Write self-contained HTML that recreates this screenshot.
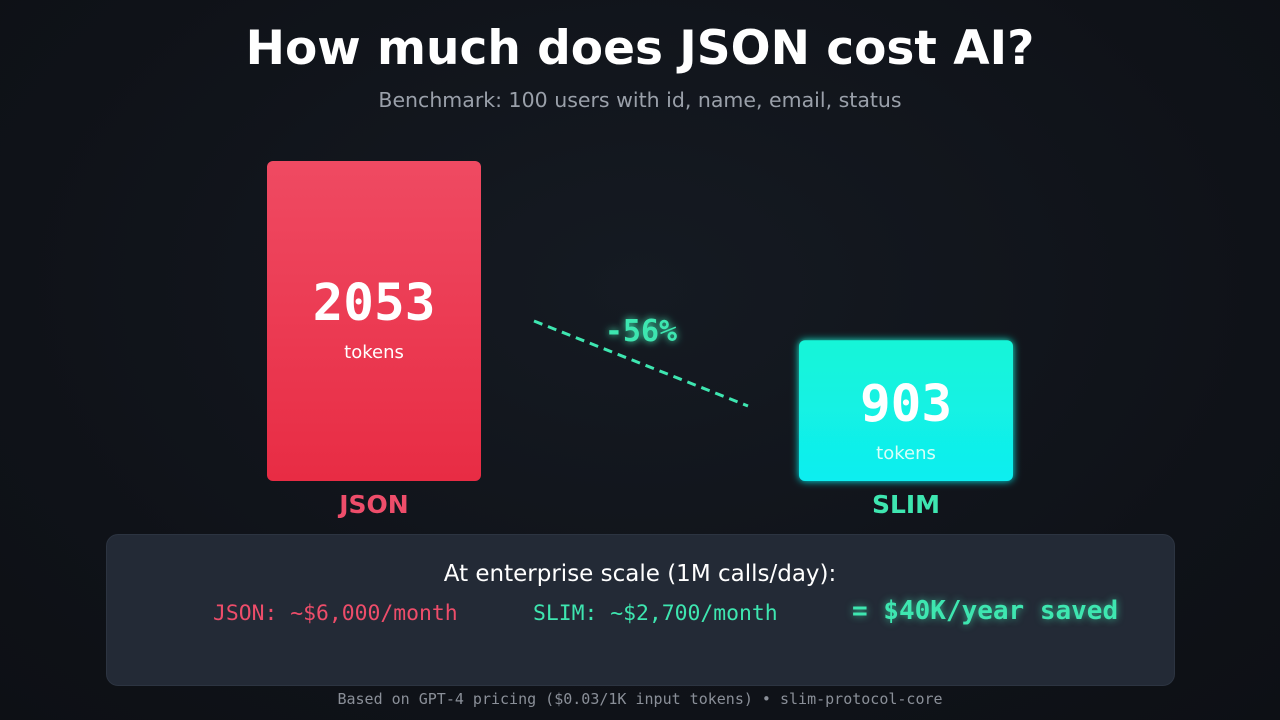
<!DOCTYPE html>
<html><head><meta charset="utf-8"><style>
body{margin:0;width:1280px;height:720px;overflow:hidden;background:radial-gradient(ellipse at 50% 40%,#151a22 0%,#0f1218 70%,#0d1015 100%);font-family:"DejaVu Sans","Liberation Sans",sans-serif;position:relative}
.abs{position:absolute}
#title{left:0;width:1280px;top:21px;text-align:center;color:#fff;font-weight:bold;font-size:47px}
#sub{left:0;width:1280px;top:88px;text-align:center;color:#9aa0aa;font-size:20.5px}
#panel{left:106px;top:534px;width:1067px;height:150px;background:#232a36;border-radius:12px;border:1px solid #2c3441}
.mono{font-family:"DejaVu Sans Mono","Liberation Mono",monospace}
</style></head><body>
<div id="title" class="abs">How much does JSON cost AI?</div>
<div id="sub" class="abs">Benchmark: 100 users with id, name, email, status</div>
<svg class="abs" style="left:0;top:0" width="1280" height="530">
<defs>
<linearGradient id="gr" x1="0" y1="0" x2="0" y2="1"><stop offset="0" stop-color="#ef4a62"/><stop offset="1" stop-color="#e82c44"/></linearGradient>
<linearGradient id="gc" x1="0" y1="0" x2="0" y2="1"><stop offset="0" stop-color="#14f5d8"/><stop offset="1" stop-color="#10eef0"/></linearGradient>
<filter id="glow" x="-30%" y="-30%" width="160%" height="160%"><feGaussianBlur stdDeviation="4" result="b"/><feMerge><feMergeNode in="b"/><feMergeNode in="SourceGraphic"/></feMerge></filter>
</defs>
<g id="bars"></g>
<line x1="534" y1="321" x2="748" y2="406" stroke="#3ee6b0" stroke-width="3" stroke-dasharray="9,6"/>
<text x="641" y="341" text-anchor="middle" font-family="DejaVu Sans Mono" font-weight="bold" font-size="30" fill="#3ee6b0" filter="url(#glow)">-56%</text>
</svg>
<div id="panel" class="abs"></div>
<div class="abs" style="left:0;width:1280px;top:561px;text-align:center;color:#fff;font-size:23px">At enterprise scale (1M calls/day):</div>
<div class="abs mono" style="left:213px;top:601px;color:#ee4d6a;font-size:21.4px">JSON: ~$6,000/month</div>
<div class="abs mono" style="left:533px;top:601px;color:#3ee6b0;font-size:21.4px">SLIM: ~$2,700/month</div>
<div class="abs mono" style="left:852px;top:596px;color:#3ee6b0;font-size:26px;font-weight:bold;text-shadow:0 0 8px rgba(62,230,176,.7)">= $40K/year saved</div>
<div class="abs mono" style="left:0;width:1280px;top:690px;text-align:center;color:#8a8f98;font-size:15px">Based on GPT-4 pricing ($0.03/1K input tokens) • slim-protocol-core</div>
<script>
const categories=["JSON","SLIM"];
const values=[2053,903];
const labelColors=["#ee4d6a","#3ee6b0"];
const fills=["url(#gr)","url(#gc)"];
const xs=[267,799], bw=214, base=481, maxH=320;
function y(v){return base-v/2053*maxH;}
const g=document.getElementById('bars');const NS="http://www.w3.org/2000/svg";
categories.forEach((c,i)=>{
 const top=y(values[i]);const h=base-top;
 const r=document.createElementNS(NS,'rect');
 r.setAttribute('x',xs[i]);r.setAttribute('y',top);r.setAttribute('width',bw);r.setAttribute('height',h);r.setAttribute('rx',6);r.setAttribute('fill',fills[i]);
 if(i==1)r.setAttribute('filter','url(#glow)');
 
 
 g.appendChild(r);
 const cx=xs[i]+bw/2, nb=top+19.6+0.436*h;
 const t=document.createElementNS(NS,'text');
 t.setAttribute('x',cx);t.setAttribute('y',nb);t.setAttribute('text-anchor','middle');t.setAttribute('font-family','DejaVu Sans Mono');t.setAttribute('font-weight','bold');t.setAttribute('font-size','51');t.setAttribute('fill','#fff');t.textContent=values[i];
 
 
 g.appendChild(t);
 const u=document.createElementNS(NS,'text');
 u.setAttribute('x',cx);u.setAttribute('y',nb+38);u.setAttribute('text-anchor','middle');u.setAttribute('font-size','18');u.setAttribute('fill',i?'#d8fff8':'#fff');u.textContent='tokens';
 
 
 g.appendChild(u);
 const l=document.createElementNS(NS,'text');
 l.setAttribute('x',cx);l.setAttribute('y',513);l.setAttribute('text-anchor','middle');l.setAttribute('font-weight','bold');l.setAttribute('font-size','25');l.setAttribute('fill',labelColors[i]);l.textContent=c;
 
 
 g.appendChild(l);
});
</script>
</body></html>
